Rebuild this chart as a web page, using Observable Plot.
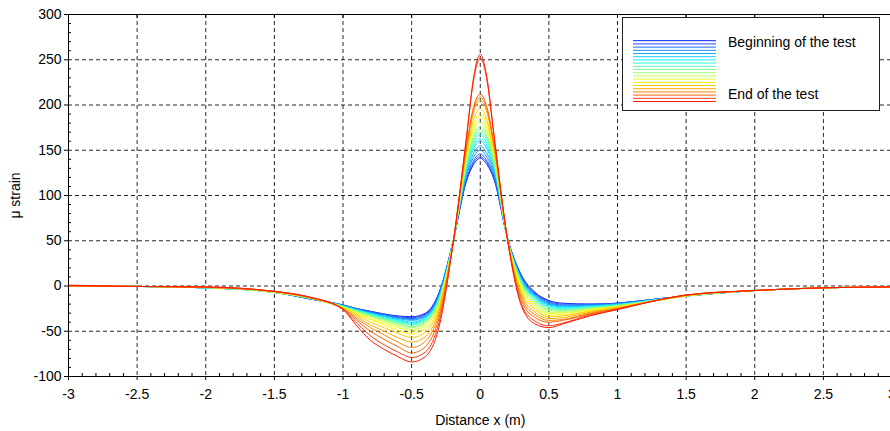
<!DOCTYPE html>
<html><head><meta charset="utf-8">
<script src="https://cdn.jsdelivr.net/npm/d3@7"></script>
<script src="https://cdn.jsdelivr.net/npm/@observablehq/plot@0.6"></script>
<style>
body{margin:0;background:#fff;font-family:"Liberation Sans",Arial,sans-serif;}
#wrap{position:relative;width:890px;height:431px;overflow:hidden;background:#fff;}
#legend{position:absolute;left:622px;top:17px;}
</style></head><body><div id="wrap"></div>
<script>
// x positions (m) where strain was read
const xs = [-3, -2.5, -2, -1.5, -1.25, -1, -0.9, -0.8, -0.7, -0.6, -0.5, -0.4, -0.3, -0.2, -0.1, -0.05, 0, 0.05, 0.1, 0.2, 0.3, 0.4, 0.5, 0.6, 0.8, 1, 1.25, 1.5, 2, 2.5, 3];

// µ strain, one array per curve, beginning (blue) -> end (red) of the test
const c01 = [0, -0.5, -2, -7, -14, -21, -25, -28, -31, -33, -34, -30, -7, 48, 116, 134, 141, 134, 118, 52, 12, -7, -16, -19, -20, -19, -15, -11, -5, -2, -1];
const c02 = [0, -0.5, -2, -7, -14, -21, -25, -28, -31, -34, -35, -31, -8, 48, 117, 136, 143, 136, 119, 52, 11, -8, -17, -20, -20, -19, -15, -11, -5, -2, -1];
const c03 = [0, -0.5, -2, -7, -14, -21, -25, -29, -32, -35, -36, -32, -9, 48, 119, 138, 146, 138, 121, 52, 10, -9, -18, -21, -21, -19, -15, -11, -5, -2, -1];
const c04 = [0, -0.5, -2, -7, -14, -22, -26, -29, -32, -35, -37, -33, -10, 48, 122, 142, 150, 142, 124, 52, 9, -10, -19, -22, -21, -20, -15, -11, -5, -2, -1];
const c05 = [0, -0.5, -2, -7, -14, -22, -26, -30, -33, -36, -38, -34, -11, 48, 125, 146, 155, 146, 127, 51, 8, -11, -20, -22, -22, -20, -16, -11, -5, -2, -1];
const c06 = [0, -0.5, -2, -7, -13, -22, -26, -30, -34, -37, -40, -35, -12, 47, 128, 151, 160, 151, 130, 51, 7, -12, -21, -23, -22, -20, -16, -11, -5, -2, -1];
const c07 = [0, -0.5, -2, -7, -13, -22, -27, -31, -35, -38, -41, -36, -13, 47, 130, 154, 163, 154, 132, 51, 6, -13, -22, -24, -23, -21, -16, -11, -5, -2, -1];
const c08 = [0, -0.5, -2, -7, -13, -22, -27, -31, -35, -39, -42, -37, -14, 47, 132, 157, 167, 157, 134, 51, 5, -14, -23, -25, -23, -21, -16, -11, -5, -2, -1];
const c09 = [0, -0.5, -2, -7, -13, -23, -27, -32, -36, -40, -43, -38, -15, 47, 134, 160, 170, 160, 136, 51, 4, -15, -24, -26, -24, -21, -16, -11, -5, -2, -1];
const c10 = [0, -0.5, -2, -7, -13, -23, -28, -33, -37, -41, -45, -39, -16, 47, 135, 163, 173, 163, 137, 51, 3, -16, -26, -27, -24, -22, -16, -11, -5, -2, -1];
const c11 = [0, -0.5, -1.5, -7, -13, -23, -28, -33, -38, -42, -46, -40, -17, 47, 137, 165, 176, 165, 139, 51, 2, -18, -27, -28, -25, -22, -17, -11, -5, -2, -1];
const c12 = [0, -0.5, -1.5, -7, -13, -23, -29, -34, -39, -44, -48, -42, -18, 46, 140, 170, 181, 170, 142, 51, 0, -20, -29, -29, -26, -22, -17, -11, -5, -2, -1];
const c13 = [0, -0.5, -1.5, -6.5, -13, -24, -30, -36, -41, -46, -50, -44, -20, 46, 143, 174, 186, 174, 145, 51, -2, -22, -30, -30, -26, -23, -17, -11, -5, -2, -1];
const c14 = [0, -0.5, -1.5, -6.5, -13, -24, -31, -37, -43, -49, -53, -47, -22, 46, 145, 178, 190, 178, 147, 50, -4, -24, -32, -32, -27, -23, -17, -10.5, -5, -2, -1];
const c15 = [0, -0.5, -1.5, -6.5, -13, -24, -32, -40, -46, -52, -57, -51, -24, 46, 147, 183, 196, 183, 149, 50, -7, -26, -34, -33, -28, -24, -17, -10.5, -5, -2, -1];
const c16 = [0, -0.5, -1.5, -6.5, -12.5, -25, -34, -43, -50, -57, -62, -56, -27, 46, 152, 191, 205, 191, 154, 50, -10, -29, -36, -35, -29, -24, -17, -10.5, -5, -2, -1];
const c17 = [0, -0.5, -1.5, -6, -12.5, -25, -36, -46, -54, -62, -68, -61, -31, 45, 154, 194, 209, 194, 156, 50, -13, -32, -38, -37, -30, -25, -17, -10.5, -5, -2, -1];
const c18 = [0, -0.5, -1.5, -6, -12.5, -25, -38, -50, -59, -67, -74, -67, -35, 45, 155, 197, 212, 197, 157, 50, -16, -35, -40, -38, -31, -25, -17, -10, -5, -2, -1];
const c19 = [0.5, -0.5, -1, -6, -12, -26, -41, -55, -65, -73, -79, -73, -40, 45, 164, 226, 252, 226, 166, 50, -20, -39, -44, -41, -32, -26, -17, -10, -5, -2, -1];
const c20 = [1, -0.5, -1, -6, -12, -26, -44, -60, -70, -78, -84, -78, -45, 45, 165, 229, 256, 229, 167, 50, -22, -42, -46, -42, -33, -26, -17, -10, -5, -2, -1];
const curves = [c01, c02, c03, c04, c05, c06, c07, c08, c09, c10, c11, c12, c13, c14, c15, c16, c17, c18, c19, c20];

const colors = ["#0a1eff", "#2a4cff", "#1a6aff", "#1a8cff", "#10aaff", "#10d0ff", "#10f4ff", "#30ffe0", "#55ffb8", "#78ff95", "#9cff70", "#c0ff48", "#e4ff20", "#fff200", "#ffcc00", "#ffa800", "#ff8400", "#ff6000", "#ff3c10", "#ff1a00"];

const xTicks = [-3, -2.5, -2, -1.5, -1, -0.5, 0, 0.5, 1, 1.5, 2, 2.5, 3];
const yTicks = [-100, -50, 0, 50, 100, 150, 200, 250, 300];
const legendLabels = ["Beginning of the test", "End of the test"];
const xLabel = "Distance x (m)";
const yLabel = "\u03bc strain";

const data = [];
curves.forEach((vals, i) => vals.forEach((v, j) => data.push({x: xs[j], y: v, c: i})));

const minorX = d3.range(-30, 31).map(d => d / 10).filter(d => !xTicks.some(t => Math.abs(t - d) < 1e-9));
const minorY = d3.range(-100, 301, 10).filter(d => d % 50 !== 0);
const gridStyle = {stroke: "#000", strokeOpacity: 0.85, strokeDasharray: "4,3"};
const fmt = d => String(d);

const chart = Plot.plot({
  width: 890, height: 431,
  marginLeft: 68, marginRight: -1.5, marginTop: 14, marginBottom: 55,
  style: {fontFamily: "Liberation Sans, Arial, sans-serif", fontSize: "14px", color: "#000", background: "transparent", overflow: "visible"},
  x: {domain: [-3, 3]},
  y: {domain: [-100, 300]},
  color: {type: "ordinal", domain: d3.range(curves.length), range: colors},
  marks: [
    Plot.gridX(xTicks.slice(1, -1), gridStyle),
    Plot.gridY(yTicks.slice(1, -1), gridStyle),
    Plot.line(data, {x: "x", y: "y", z: "c", stroke: "c", curve: "monotone-x", strokeWidth: 1}),
    Plot.frame({stroke: "#000"}),
    Plot.axisX(xTicks, {tickSize: 4, tickPadding: 9, tickFormat: fmt, label: xLabel, labelAnchor: "center", labelArrow: "none", labelOffset: 48}),
    Plot.axisX(minorX, {tickSize: -3, fill: "none", label: null}),
    Plot.axisX(xTicks, {anchor: "top", tickSize: -3, fill: "none", label: null}),
    Plot.axisY(yTicks, {tickSize: 4, tickPadding: 3, tickFormat: fmt, label: yLabel, labelAnchor: "center", labelArrow: "none", labelOffset: 58}),
    Plot.axisY(minorY, {tickSize: -3, fill: "none", label: null})
  ]
});
document.getElementById("wrap").appendChild(chart);

// legend box inside the plot area
const lg = d3.select("#wrap").append("svg").attr("id", "legend").attr("width", 260).attr("height", 95);
lg.append("rect").attr("x", 0.5).attr("y", 0.5).attr("width", 257).attr("height", 93).attr("fill", "#fff").attr("stroke", "#222");
lg.selectAll("line").data(colors).join("line")
  .attr("x1", 11).attr("x2", 94)
  .attr("y1", (d, i) => 23.7 + i * 3.2).attr("y2", (d, i) => 23.7 + i * 3.2)
  .attr("stroke", d => d).attr("stroke-width", 1);
lg.selectAll("text").data(legendLabels).join("text")
  .attr("x", 106).attr("y", (d, i) => i === 0 ? 30 : 82)
  .attr("font-family", "Liberation Sans, Arial, sans-serif").attr("font-size", 14).attr("fill", "#000")
  .text(d => d);
</script></body></html>
